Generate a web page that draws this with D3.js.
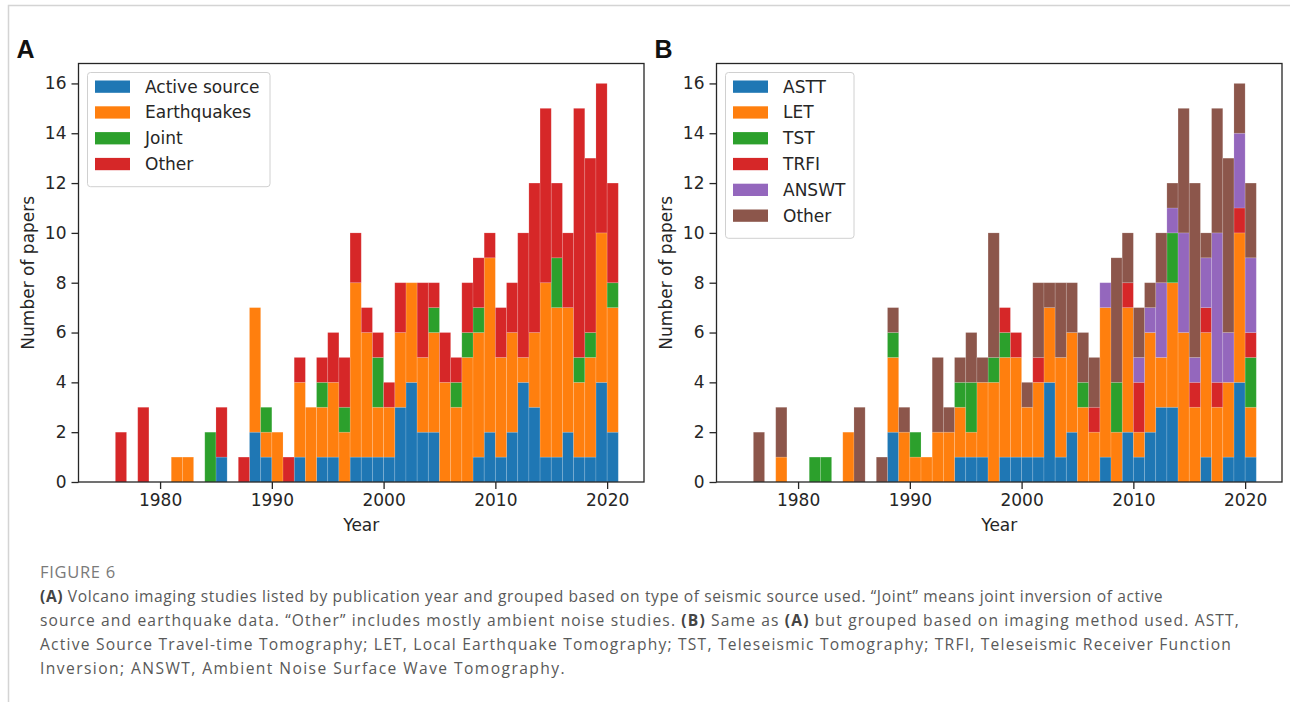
<!doctype html>
<html>
<head>
<meta charset="utf-8">
<script src="https://d3js.org/d3.v7.min.js"></script>
<style>
  body { margin: 0; background: #fff; }
</style>
</head>
<body>
<script>
// publication years (histogram bins of one year, 1976 .. 2020)
var years = d3.range(1976, 2021);

// panel A: grouped by seismic source
var sourceNames = ["Active source", "Earthquakes", "Joint", "Other"];
var activeSource = [0,0,0,0,0,0,0,0,0,1,0,0,2,1,0,0,1,0,1,1,0,1,1,1,1,3,4,2,2,0,0,0,1,2,1,2,4,3,1,1,2,1,1,4,2];
var earthquakes  = [0,0,0,0,0,1,1,0,0,0,0,0,5,1,2,0,3,3,2,3,2,7,5,2,2,3,4,3,4,4,3,5,5,7,4,4,1,3,7,6,5,3,4,6,5];
var joint        = [0,0,0,0,0,0,0,0,2,0,0,0,0,1,0,0,0,0,1,0,1,0,0,2,0,0,0,0,1,0,1,1,1,0,0,0,0,0,0,2,0,1,1,0,1];
var otherA       = [2,0,3,0,0,0,0,0,0,2,0,1,0,0,0,1,1,0,1,2,2,2,1,1,1,2,0,3,1,2,1,2,2,1,2,2,5,6,7,3,3,10,7,6,4];

// panel B: grouped by imaging method
var methodNames = ["ASTT", "LET", "TST", "TRFI", "ANSWT", "Other"];
var astt   = [0,0,0,0,0,0,0,0,0,0,0,0,2,0,0,0,0,0,1,1,1,0,1,1,1,1,4,1,2,0,0,1,0,2,1,2,3,3,0,0,1,0,1,4,1];
var let_   = [0,0,1,0,0,0,0,0,2,0,0,0,3,2,1,1,2,2,2,1,3,4,4,4,2,3,3,4,4,3,2,6,2,5,1,4,2,5,6,3,5,3,3,6,2];
var tst    = [0,0,0,0,0,1,1,0,0,0,0,0,1,0,1,0,0,0,1,2,0,1,1,0,0,0,0,0,0,1,0,0,2,0,0,0,0,2,0,0,0,0,0,0,2];
var trfi   = [0,0,0,0,0,0,0,0,0,0,0,0,0,0,0,0,0,0,0,0,0,0,1,1,0,1,0,0,0,0,1,0,0,1,2,0,0,0,0,1,1,1,0,1,1];
var answt  = [0,0,0,0,0,0,0,0,0,0,0,0,0,0,0,0,0,0,0,0,0,0,0,0,0,0,0,0,0,0,0,1,0,0,1,1,3,1,4,1,2,6,2,3,3];
var otherB = [2,0,2,0,0,0,0,0,0,3,0,1,1,1,0,0,3,1,1,2,1,5,0,0,1,3,1,3,2,2,2,0,5,2,2,1,2,1,5,7,1,5,7,2,3];

var xTicks = [1980, 1990, 2000, 2010, 2020];
var yTicks = [0, 2, 4, 6, 8, 10, 12, 14, 16];

var colors = ["#1f77b4", "#ff7f0e", "#2ca02c", "#d62728", "#9467bd", "#8c564b"];

var svg = d3.select("body").append("svg")
    .attr("width", 1290)
    .attr("height", 702)
    .attr("font-family", "DejaVu Sans");

svg.append("rect").attr("width", 1290).attr("height", 702).attr("fill", "#fff");

// card border
svg.append("path")
    .attr("d", "M8.5,702 V5.5 H1290")
    .attr("fill", "none")
    .attr("stroke", "#d4d4d4")
    .attr("stroke-width", 1.5);

var height = 482 - 63.5;
var width = 565.5;

var x = d3.scaleLinear().domain([1972.7, 2023.3]).range([0, width]);
var y = d3.scaleLinear().domain([0, 16.8]).range([height, 0]);

function drawPanel(left, letter, names, series) {
  var g = svg.append("g").attr("transform", "translate(" + left + ",63.5)");

  var table = years.map(function(yr, i) {
    var row = {year: yr};
    names.forEach(function(n, k) { row[n] = series[k][i]; });
    return row;
  });
  var stacked = d3.stack().keys(names)(table);

  g.selectAll("g.layer")
      .data(stacked)
    .enter().append("g")
      .attr("class", "layer")
      .attr("fill", function(d, k) { return colors[k]; })
    .selectAll("rect")
      .data(function(d) { return d.filter(function(p) { return p[1] > p[0]; }); })
    .enter().append("rect")
      .attr("x", function(p) { return x(p.data.year); })
      .attr("width", function(p) { return x(p.data.year + 1) - x(p.data.year); })
      .attr("y", function(p) { return y(p[1]); })
      .attr("height", function(p) { return y(p[0]) - y(p[1]); })
      .attr("stroke", "#fff")
      .attr("stroke-opacity", 0.18)
      .attr("stroke-width", 0.8);

  var xAxis = g.append("g")
      .attr("transform", "translate(0," + height + ")")
      .call(d3.axisBottom(x).tickValues(xTicks).tickFormat(d3.format("d")).tickSize(7).tickPadding(5));
  var yAxis = g.append("g")
      .call(d3.axisLeft(y).tickValues(yTicks).tickSize(7).tickPadding(5));

  [xAxis, yAxis].forEach(function(a) {
    a.select(".domain").remove();
    a.selectAll("line").attr("stroke", "#262626").attr("stroke-width", 1.3);
    a.selectAll("text").attr("font-size", "17px").attr("fill", "#262626")
        .attr("font-family", "DejaVu Sans");
  });

  g.append("rect")
      .attr("width", width)
      .attr("height", height)
      .attr("fill", "none")
      .attr("stroke", "#262626")
      .attr("stroke-width", 1.3);

  g.append("text")
      .attr("x", width / 2)
      .attr("y", height + 49)
      .attr("text-anchor", "middle")
      .attr("font-size", "17px")
      .attr("fill", "#262626")
      .text("Year");

  g.append("text")
      .attr("transform", "rotate(-90)")
      .attr("x", -height / 2)
      .attr("y", -45)
      .attr("text-anchor", "middle")
      .attr("font-size", "17px")
      .attr("fill", "#262626")
      .text("Number of papers");

  svg.append("text")
      .attr("x", left - 62)
      .attr("y", 58)
      .attr("font-size", "25px")
      .attr("font-weight", "bold")
      .attr("font-family", "Liberation Sans")
      .attr("fill", "#111")
      .text(letter);

  // legend
  var legW = d3.max(names, function(n) { return n.length; }) > 6 ? 182.5 : 128.5;
  var lg = g.append("g").attr("transform", "translate(9,9)");
  lg.append("rect")
      .attr("width", legW)
      .attr("height", 14 + names.length * 25.8 - 3)
      .attr("rx", 3)
      .attr("fill", "#fff")
      .attr("fill-opacity", 0.8)
      .attr("stroke", "#d0d0d0");
  names.forEach(function(n, k) {
    lg.append("rect")
        .attr("x", 7.5)
        .attr("y", 8 + k * 25.8)
        .attr("width", 35)
        .attr("height", 12.3)
        .attr("fill", colors[k]);
    lg.append("text")
        .attr("x", 57.5)
        .attr("y", 20 + k * 25.8)
        .attr("font-size", "17px")
        .attr("fill", "#262626")
        .text(n);
  });
}

drawPanel(78.5, "A", sourceNames, [activeSource, earthquakes, joint, otherA]);
drawPanel(716.5, "B", methodNames, [astt, let_, tst, trfi, answt, otherB]);

// caption
svg.append("text")
    .attr("x", 40)
    .attr("y", 578)
    .attr("font-family", "Open Sans")
    .attr("font-size", "16.5px")
    .attr("letter-spacing", "0.7px")
    .attr("fill", "#7a7a7a")
    .text("FIGURE 6");

var captionLines = [
  [["(A)", true], [" Volcano imaging studies listed by publication year and grouped based on type of seismic source used. \u201cJoint\u201d means joint inversion of active", false]],
  [["source and earthquake data. \u201cOther\u201d includes mostly ambient noise studies. ", false], ["(B)", true], [" Same as ", false], ["(A)", true], [" but grouped based on imaging method used. ASTT,", false]],
  [["Active Source Travel-time Tomography; LET, Local Earthquake Tomography; TST, Teleseismic Tomography; TRFI, Teleseismic Receiver Function", false]],
  [["Inversion; ANSWT, Ambient Noise Surface Wave Tomography.", false]]
];
var captionEnds = [1163, 1240, 1232, 566];

captionLines.forEach(function(parts, i) {
  var t = svg.append("text")
      .attr("x", 40)
      .attr("y", 602 + i * 24)
      .attr("font-family", "Open Sans")
      .attr("font-size", "15.6px")
      .attr("fill", "#595959");
  parts.forEach(function(p) {
    t.append("tspan")
        .attr("font-weight", p[1] ? "bold" : null)
        .attr("fill", p[1] ? "#444" : null)
        .text(p[0]);
  });
  // spread letters so each line ends where it does in the figure
  var n = t.text().length;
  var natural = t.node().getComputedTextLength();
  t.attr("letter-spacing", ((captionEnds[i] - 40 - natural) / n) + "px");
});
</script>
</body>
</html>
